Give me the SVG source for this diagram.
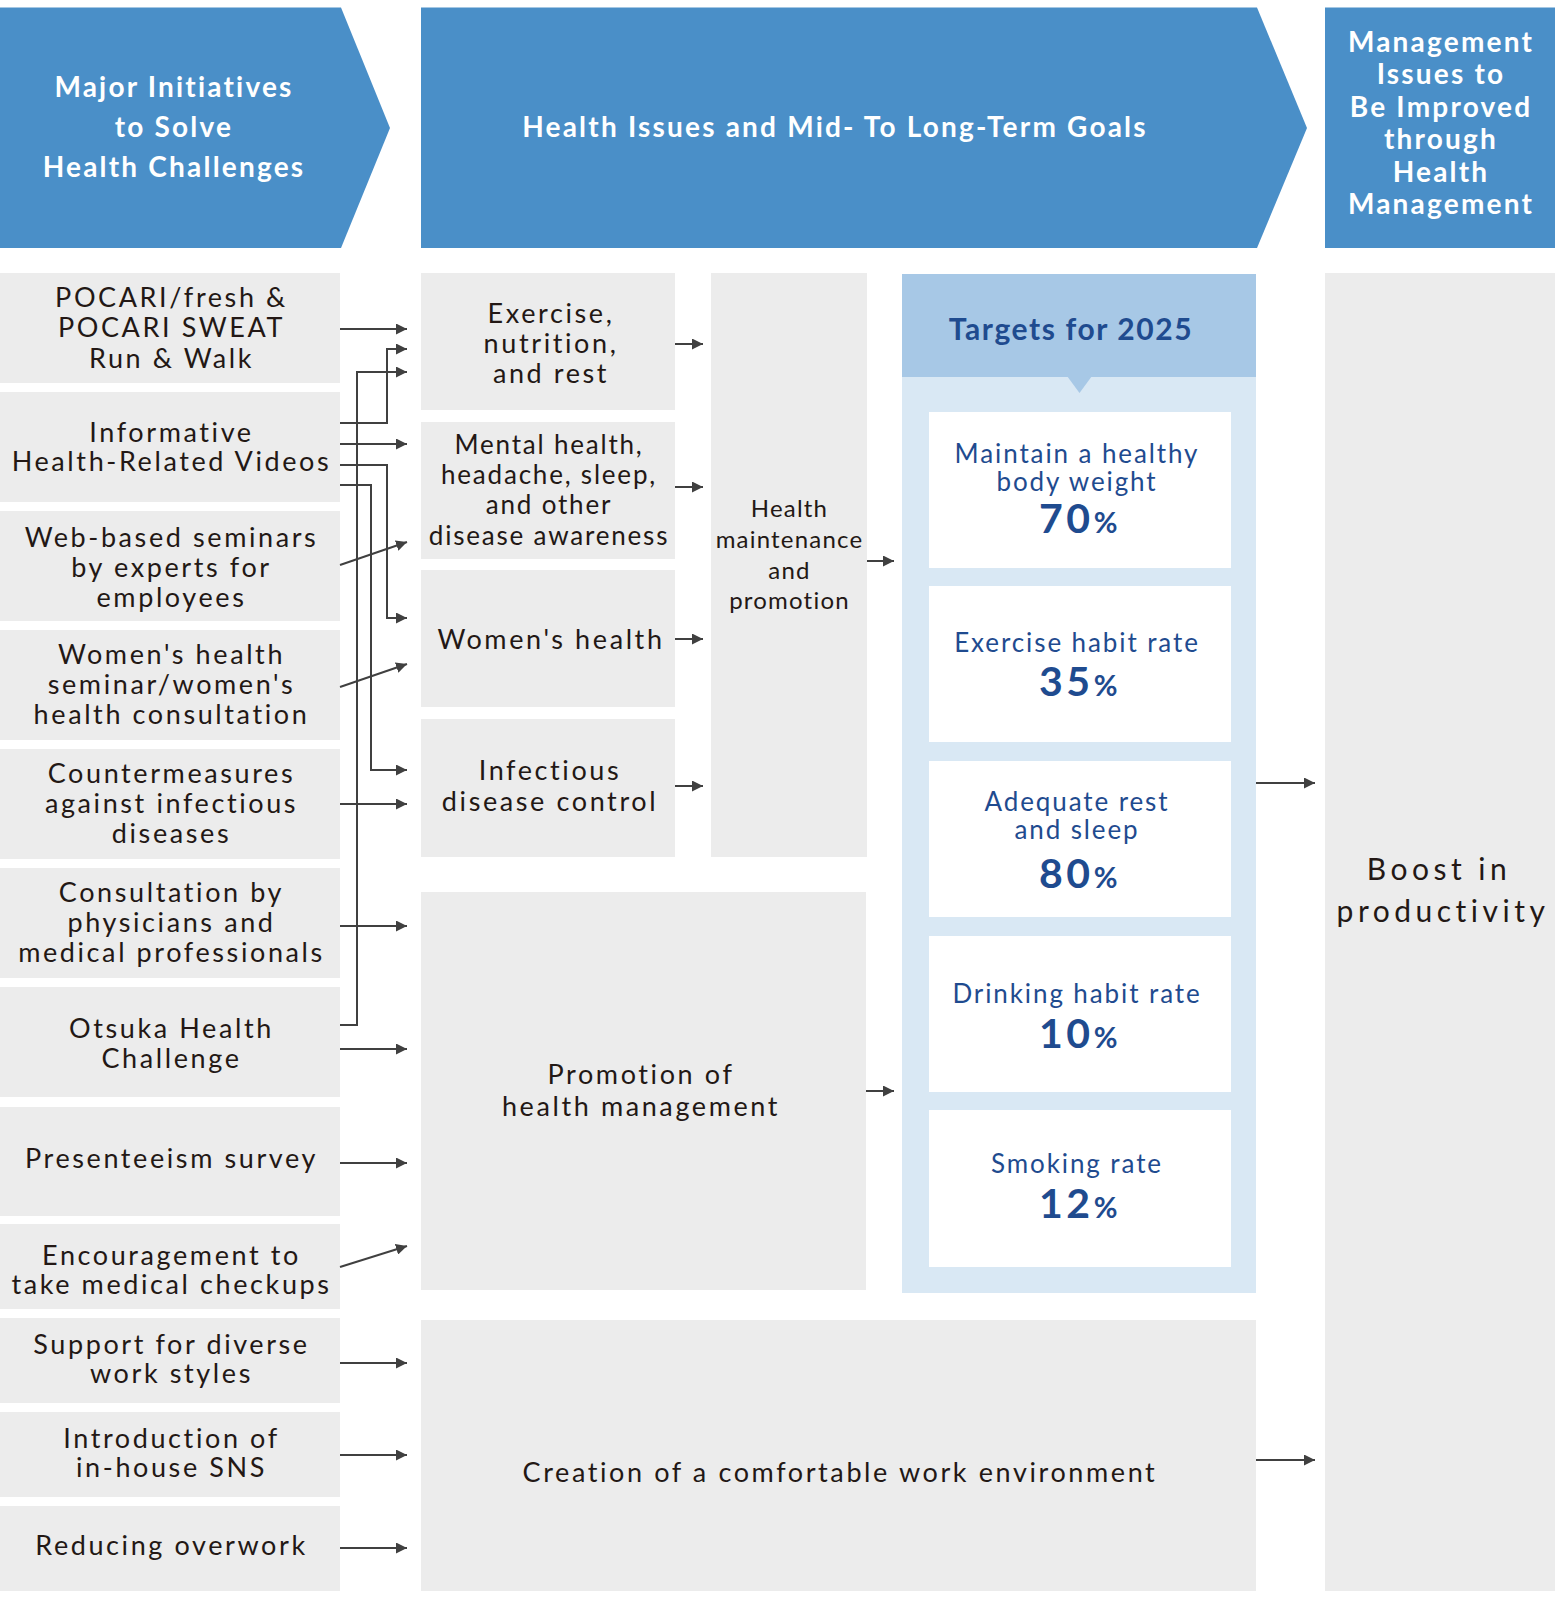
<svg xmlns="http://www.w3.org/2000/svg" width="1555" height="1610" viewBox="0 0 1555 1610">
<defs>
<style>
.hd{fill:#4a8fc8}
.bx{fill:#ececec}
.ht{font-family:Lato,'Liberation Sans',sans-serif;font-weight:bold;font-size:28px;fill:#fff;letter-spacing:2.2px;text-anchor:middle}
.t{font-family:Lato,'Liberation Sans',sans-serif;font-size:27px;fill:#231815;letter-spacing:2.6px;text-anchor:middle}
.tm{font-family:Lato,'Liberation Sans',sans-serif;font-size:26px;fill:#231815;letter-spacing:1.8px;text-anchor:middle}
.ts{font-family:Lato,'Liberation Sans',sans-serif;font-size:24px;fill:#231815;letter-spacing:1.2px;text-anchor:middle}
.tb{font-family:Lato,'Liberation Sans',sans-serif;font-size:30px;fill:#231815;letter-spacing:4.5px;text-anchor:middle}
.nv{font-family:Lato,'Liberation Sans',sans-serif;font-size:26px;fill:#1f4b8f;letter-spacing:1.9px;text-anchor:middle}
.num{font-family:Lato,'Liberation Sans',sans-serif;font-size:41px;font-weight:bold;fill:#1f4b8f;letter-spacing:3.5px;text-anchor:middle}
.pc{font-size:29px}
.tt{font-family:Lato,'Liberation Sans',sans-serif;font-size:30px;font-weight:bold;fill:#1f4b8f;letter-spacing:1.6px;text-anchor:middle}
.wb{fill:#fff}
.cn{fill:none;stroke:#404040;stroke-width:2;marker-end:url(#ah)}
</style>
<marker id="ah" viewBox="0 0 10 10" refX="10" refY="5" markerWidth="11" markerHeight="11" markerUnits="userSpaceOnUse" orient="auto">
<path d="M0,0 L10,5 L0,10 z" fill="#404040"/>
</marker>
</defs>
<rect width="1555" height="1610" fill="#fff"/>

<g id="header-initiatives">
<polygon class="hd" points="0,7.5 341,7.5 390,128 341,248 0,248"/>
<text class="ht" x="174" y="97">Major Initiatives</text>
<text class="ht" x="174" y="137">to Solve</text>
<text class="ht" x="174" y="177">Health Challenges</text>
</g>
<g id="header-goals">
<polygon class="hd" points="421,7.5 1257,7.5 1307,128 1257,248 421,248"/>
<text class="ht" x="835" y="137">Health Issues and Mid- To Long-Term Goals</text>
</g>
<g id="header-management">
<rect class="hd" x="1325" y="7.5" width="230" height="240.5"/>
<text class="ht" x="1441" y="52">Management</text>
<text class="ht" x="1441" y="84">Issues to</text>
<text class="ht" x="1441" y="117">Be Improved</text>
<text class="ht" x="1441" y="149">through</text>
<text class="ht" x="1441" y="182">Health</text>
<text class="ht" x="1441" y="214">Management</text>
</g>

<g id="init-pocari">
<rect class="bx" x="0" y="273" width="340" height="110"/>
<text class="t" x="171.5" y="307">POCARI/fresh &amp;</text>
<text class="t" x="171.5" y="337">POCARI SWEAT</text>
<text class="t" x="171.5" y="368">Run &amp; Walk</text>
</g>
<g id="init-videos">
<rect class="bx" x="0" y="392" width="340" height="110"/>
<text class="t" x="171.5" y="442">Informative</text>
<text class="t" x="171.5" y="471">Health-Related Videos</text>
</g>
<g id="init-web">
<rect class="bx" x="0" y="511" width="340" height="110"/>
<text class="t" x="171.5" y="547">Web-based seminars</text>
<text class="t" x="171.5" y="577">by experts for</text>
<text class="t" x="171.5" y="607">employees</text>
</g>
<g id="init-women">
<rect class="bx" x="0" y="630" width="340" height="110"/>
<text class="t" x="171.5" y="664">Women's health</text>
<text class="t" x="171.5" y="694">seminar/women's</text>
<text class="t" x="171.5" y="724">health consultation</text>
</g>
<g id="init-infectious">
<rect class="bx" x="0" y="749" width="340" height="110"/>
<text class="t" x="171.5" y="783">Countermeasures</text>
<text class="t" x="171.5" y="813">against infectious</text>
<text class="t" x="171.5" y="843">diseases</text>
</g>
<g id="init-consultation">
<rect class="bx" x="0" y="868" width="340" height="110"/>
<text class="t" x="171.5" y="902">Consultation by</text>
<text class="t" x="171.5" y="932">physicians and</text>
<text class="t" x="171.5" y="962">medical professionals</text>
</g>
<g id="init-otsuka">
<rect class="bx" x="0" y="987" width="340" height="110"/>
<text class="t" x="171.5" y="1038">Otsuka Health</text>
<text class="t" x="171.5" y="1068">Challenge</text>
</g>
<g id="init-presenteeism">
<rect class="bx" x="0" y="1107" width="340" height="109"/>
<text class="t" x="171.5" y="1168">Presenteeism survey</text>
</g>
<g id="init-checkups">
<rect class="bx" x="0" y="1224" width="340" height="85"/>
<text class="t" x="171.5" y="1265">Encouragement to</text>
<text class="t" x="171.5" y="1294">take medical checkups</text>
</g>
<g id="init-workstyles">
<rect class="bx" x="0" y="1318" width="340" height="85"/>
<text class="t" x="171.5" y="1354">Support for diverse</text>
<text class="t" x="171.5" y="1383">work styles</text>
</g>
<g id="init-sns">
<rect class="bx" x="0" y="1412" width="340" height="85"/>
<text class="t" x="171.5" y="1448">Introduction of</text>
<text class="t" x="171.5" y="1477">in-house SNS</text>
</g>
<g id="init-overwork">
<rect class="bx" x="0" y="1506" width="340" height="85"/>
<text class="t" x="171.5" y="1555">Reducing overwork</text>
</g>

<g id="issue-exercise">
<rect class="bx" x="421" y="273" width="254" height="137"/>
<text class="t" x="551" y="323">Exercise,</text>
<text class="t" x="551" y="353">nutrition,</text>
<text class="t" x="551" y="383">and rest</text>
</g>
<g id="issue-mental">
<rect class="bx" x="421" y="422" width="254" height="137"/>
<text class="tm" x="549" y="454">Mental health,</text>
<text class="tm" x="549" y="484">headache, sleep,</text>
<text class="tm" x="549" y="514">and other</text>
<text class="tm" x="549" y="545">disease awareness</text>
</g>
<g id="issue-women">
<rect class="bx" x="421" y="570" width="254" height="137"/>
<text class="t" x="551" y="649">Women's health</text>
</g>
<g id="issue-infectious">
<rect class="bx" x="421" y="719" width="254" height="138"/>
<text class="t" x="550" y="780">Infectious</text>
<text class="t" x="550" y="811">disease control</text>
</g>
<g id="issue-maintenance">
<rect class="bx" x="711" y="273" width="156" height="584"/>
<text class="ts" x="789.5" y="517">Health</text>
<text class="ts" x="789.5" y="548">maintenance</text>
<text class="ts" x="789.5" y="579">and</text>
<text class="ts" x="789.5" y="609">promotion</text>
</g>
<g id="issue-promotion">
<rect class="bx" x="421" y="892" width="445" height="398"/>
<text class="t" x="641" y="1084">Promotion of</text>
<text class="t" x="641" y="1116">health management</text>
</g>
<g id="issue-environment">
<rect class="bx" x="421" y="1320" width="835" height="271"/>
<text class="t" x="840" y="1482">Creation of a comfortable work environment</text>
</g>

<g id="targets">
<rect x="902" y="274" width="354" height="1019" fill="#d9e8f4"/>
<rect x="902" y="274" width="354" height="103" fill="#a7c8e6"/>
<polygon points="1067,376 1092,376 1079.5,393" fill="#a7c8e6"/>
<text class="tt" x="1071" y="340">Targets for 2025</text>
<rect class="wb" x="929" y="412" width="302" height="156"/>
<text class="nv" x="1077" y="463">Maintain a healthy</text>
<text class="nv" x="1077" y="491">body weight</text>
<text class="num" x="1080" y="533">70<tspan class="pc">%</tspan></text>
<rect class="wb" x="929" y="586" width="302" height="156"/>
<text class="nv" x="1077" y="652">Exercise habit rate</text>
<text class="num" x="1080" y="696">35<tspan class="pc">%</tspan></text>
<rect class="wb" x="929" y="761" width="302" height="156"/>
<text class="nv" x="1077" y="811">Adequate rest</text>
<text class="nv" x="1077" y="839">and sleep</text>
<text class="num" x="1080" y="888">80<tspan class="pc">%</tspan></text>
<rect class="wb" x="929" y="936" width="302" height="156"/>
<text class="nv" x="1077" y="1003">Drinking habit rate</text>
<text class="num" x="1080" y="1048">10<tspan class="pc">%</tspan></text>
<rect class="wb" x="929" y="1110" width="302" height="157"/>
<text class="nv" x="1077" y="1173">Smoking rate</text>
<text class="num" x="1080" y="1218">12<tspan class="pc">%</tspan></text>
</g>

<g id="outcome-productivity">
<rect class="bx" x="1325" y="273" width="230" height="1318"/>
<text class="tb" x="1439" y="880">Boost in</text>
<text class="tb" x="1443" y="922">productivity</text>
</g>

<g id="connectors">
<path class="cn" d="M340,329 H407"/>
<path class="cn" d="M340,423 H387 V349 H407"/>
<path class="cn" d="M340,1025 H357 V372 H407"/>
<path class="cn" d="M340,444 H407"/>
<path class="cn" d="M340,465 H387 V618 H407"/>
<path class="cn" d="M340,485 H371 V770 H407"/>
<path class="cn" d="M340,565 L407,542"/>
<path class="cn" d="M340,687 L407,664"/>
<path class="cn" d="M340,804 H407"/>
<path class="cn" d="M340,926 H407"/>
<path class="cn" d="M340,1049 H407"/>
<path class="cn" d="M340,1163 H407"/>
<path class="cn" d="M340,1267 L407,1246"/>
<path class="cn" d="M340,1363 H407"/>
<path class="cn" d="M340,1455 H407"/>
<path class="cn" d="M340,1548 H407"/>
<path class="cn" d="M675,344 H703"/>
<path class="cn" d="M675,487 H703"/>
<path class="cn" d="M675,639 H703"/>
<path class="cn" d="M675,786 H703"/>
<path class="cn" d="M867,561 H894"/>
<path class="cn" d="M866,1091 H894"/>
<path class="cn" d="M1256,783 H1315"/>
<path class="cn" d="M1256,1460 H1315"/>
</g>
</svg>
